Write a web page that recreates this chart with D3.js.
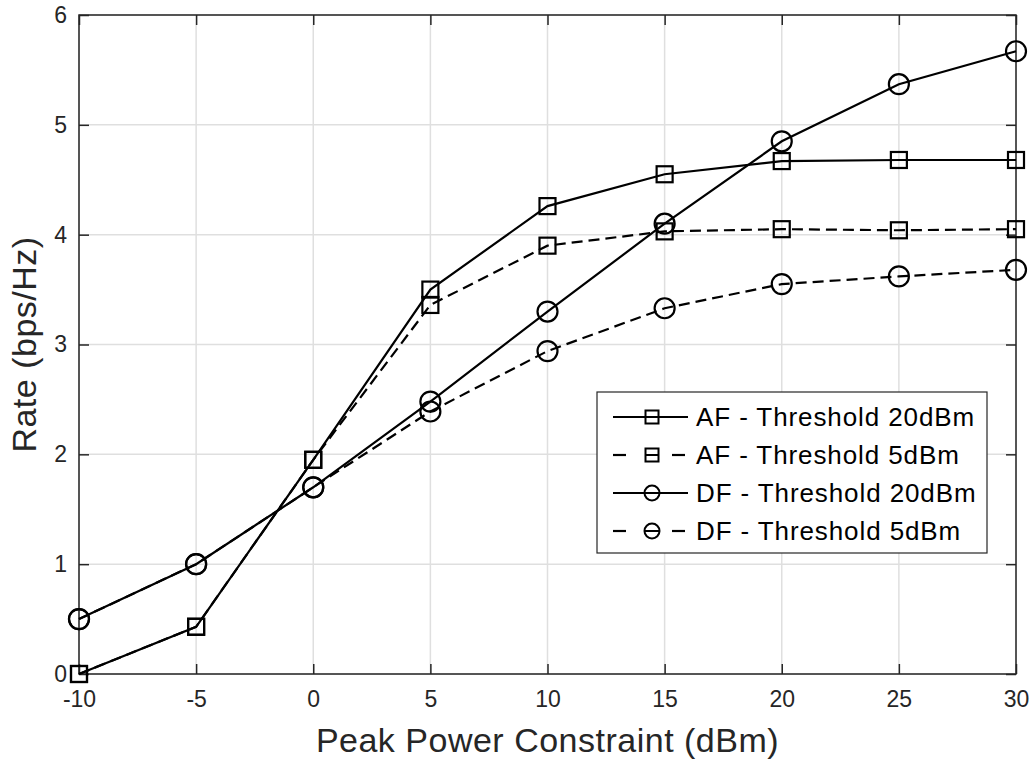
<!DOCTYPE html>
<html>
<head>
<meta charset="utf-8">
<script src="https://cdn.jsdelivr.net/npm/d3@7"></script>
<style>
body { margin: 0; background: #fff; }
svg text { font-family: "Liberation Sans", Arial, sans-serif; fill: #262626; }
</style>
</head>
<body>
<div id="chart"></div>
<script>
var xTicks = [-10, -5, 0, 5, 10, 15, 20, 25, 30];
var yTicks = [0, 1, 2, 3, 4, 5, 6];

var afTh20 = [0, 0.43, 1.95, 3.5, 4.26, 4.55, 4.67, 4.68, 4.68];
var afTh5  = [0, 0.43, 1.95, 3.36, 3.9, 4.03, 4.05, 4.04, 4.05];
var dfTh20 = [0.5, 1.0, 1.7, 2.48, 3.3, 4.1, 4.85, 5.37, 5.67];
var dfTh5  = [0.5, 1.0, 1.7, 2.39, 2.94, 3.33, 3.55, 3.62, 3.68];

var seriesNames = ["AF - Threshold 20dBm", "AF - Threshold 5dBm", "DF - Threshold 20dBm", "DF - Threshold 5dBm"];

var series = [
  {name: seriesNames[0], values: afTh20, marker: "square", dashed: false},
  {name: seriesNames[1], values: afTh5,  marker: "square", dashed: true},
  {name: seriesNames[2], values: dfTh20, marker: "circle", dashed: false},
  {name: seriesNames[3], values: dfTh5,  marker: "circle", dashed: true}
];

var w = 1030, h = 760;
var pLeft = 79, pTop = 15, pRight = 1016, pBottom = 674;

var svg = d3.select("#chart").append("svg")
  .attr("width", w).attr("height", h);

var x = d3.scaleLinear().domain([-10, 30]).range([pLeft, pRight]);
var y = d3.scaleLinear().domain([0, 6]).range([pBottom, pTop]);

// grid
svg.append("g").selectAll("line").data(xTicks).enter().append("line")
  .attr("x1", d => x(d)).attr("x2", d => x(d))
  .attr("y1", pTop).attr("y2", pBottom)
  .attr("stroke", "#dfdfdf").attr("stroke-width", 1.5);
svg.append("g").selectAll("line").data(yTicks).enter().append("line")
  .attr("x1", pLeft).attr("x2", pRight)
  .attr("y1", d => y(d)).attr("y2", d => y(d))
  .attr("stroke", "#dfdfdf").attr("stroke-width", 1.5);

// axes (inward ticks like matlab)
function styleAxis(g) {
  g.attr("font-family", null).attr("font-size", null);
  g.select(".domain").remove();
  g.selectAll(".tick line").attr("stroke", "#262626").attr("stroke-width", 1.5);
  g.selectAll(".tick text").style("font-size", "23px").attr("fill", "#262626");
}
var fmt = d => String(d);
svg.append("g").attr("transform", "translate(0," + pBottom + ")")
  .call(d3.axisBottom(x).tickValues(xTicks).tickSize(-10).tickPadding(17).tickFormat(fmt))
  .call(styleAxis);
svg.append("g").attr("transform", "translate(0," + pTop + ")")
  .call(d3.axisTop(x).tickValues(xTicks).tickSize(-10).tickFormat(""))
  .call(styleAxis);
svg.append("g").attr("transform", "translate(" + pLeft + ",0)")
  .call(d3.axisLeft(y).tickValues(yTicks).tickSize(-10).tickPadding(12).tickFormat(fmt))
  .call(styleAxis);
svg.append("g").attr("transform", "translate(" + pRight + ",0)")
  .call(d3.axisRight(y).tickValues(yTicks).tickSize(-10).tickFormat(""))
  .call(styleAxis);

svg.append("rect")
  .attr("x", pLeft).attr("y", pTop)
  .attr("width", pRight - pLeft).attr("height", pBottom - pTop)
  .attr("fill", "none").attr("stroke", "#262626").attr("stroke-width", 1.5);

// lines
var line = d3.line().x((d, i) => x(xTicks[i])).y(d => y(d));

function drawMarker(g, type, cx, cy) {
  if (type === "square") {
    g.append("rect").attr("x", cx - 8).attr("y", cy - 8)
      .attr("width", 16).attr("height", 16)
      .attr("fill", "none").attr("stroke", "#000").attr("stroke-width", 2.2);
  } else {
    g.append("circle").attr("cx", cx).attr("cy", cy).attr("r", 10)
      .attr("fill", "none").attr("stroke", "#000").attr("stroke-width", 2.2);
  }
}

series.forEach(function(s) {
  svg.append("path")
    .attr("d", line(s.values))
    .attr("fill", "none").attr("stroke", "#000").attr("stroke-width", 2.2)
    .attr("stroke-dasharray", s.dashed ? "11,6" : null);
  var g = svg.append("g");
  s.values.forEach(function(v, i) { drawMarker(g, s.marker, x(xTicks[i]), y(v)); });
});

// axis labels
svg.append("text")
  .attr("x", (pLeft + pRight) / 2).attr("y", 752)
  .attr("text-anchor", "middle").style("font-size", "34px")
  .style("letter-spacing", "0.5px")
  .text("Peak Power Constraint (dBm)");
svg.append("text")
  .attr("transform", "translate(36," + ((pTop + pBottom) / 2) + ") rotate(-90)")
  .attr("text-anchor", "middle").style("font-size", "34px")
  .style("letter-spacing", "0.5px")
  .text("Rate (bps/Hz)");

// legend
var lg = svg.append("g");
var lx = 597, ly = 392, lw = 390, lh = 161;
lg.append("rect").attr("x", lx).attr("y", ly).attr("width", lw).attr("height", lh)
  .attr("fill", "#fff").attr("stroke", "#262626").attr("stroke-width", 1.2);
series.forEach(function(s, i) {
  var cy = ly + 25 + i * 38;
  var mx = lx + 55;
  if (s.dashed) {
    lg.append("line").attr("x1", lx + 16).attr("x2", lx + 29).attr("y1", cy).attr("y2", cy)
      .attr("stroke", "#000").attr("stroke-width", 2.2);
    lg.append("line").attr("x1", lx + 75).attr("x2", lx + 88).attr("y1", cy).attr("y2", cy)
      .attr("stroke", "#000").attr("stroke-width", 2.2);
    lg.append("line").attr("x1", mx - 7).attr("x2", mx + 7).attr("y1", cy).attr("y2", cy)
      .attr("stroke", "#000").attr("stroke-width", 2);
  } else {
    lg.append("line").attr("x1", lx + 16).attr("x2", lx + 91).attr("y1", cy).attr("y2", cy)
      .attr("stroke", "#000").attr("stroke-width", 2.2);
  }
  if (s.marker === "square") {
    lg.append("rect").attr("x", mx - 6.5).attr("y", cy - 6.5).attr("width", 13).attr("height", 13)
      .attr("fill", "none").attr("stroke", "#000").attr("stroke-width", 2);
  } else {
    lg.append("circle").attr("cx", mx).attr("cy", cy).attr("r", 7.5)
      .attr("fill", "none").attr("stroke", "#000").attr("stroke-width", 2);
  }
  lg.append("text").attr("x", lx + 99).attr("y", cy + 9)
    .style("font-size", "26px").style("letter-spacing", "0.9px").style("fill", "#000")
    .text(s.name);
});
</script>
</body>
</html>
